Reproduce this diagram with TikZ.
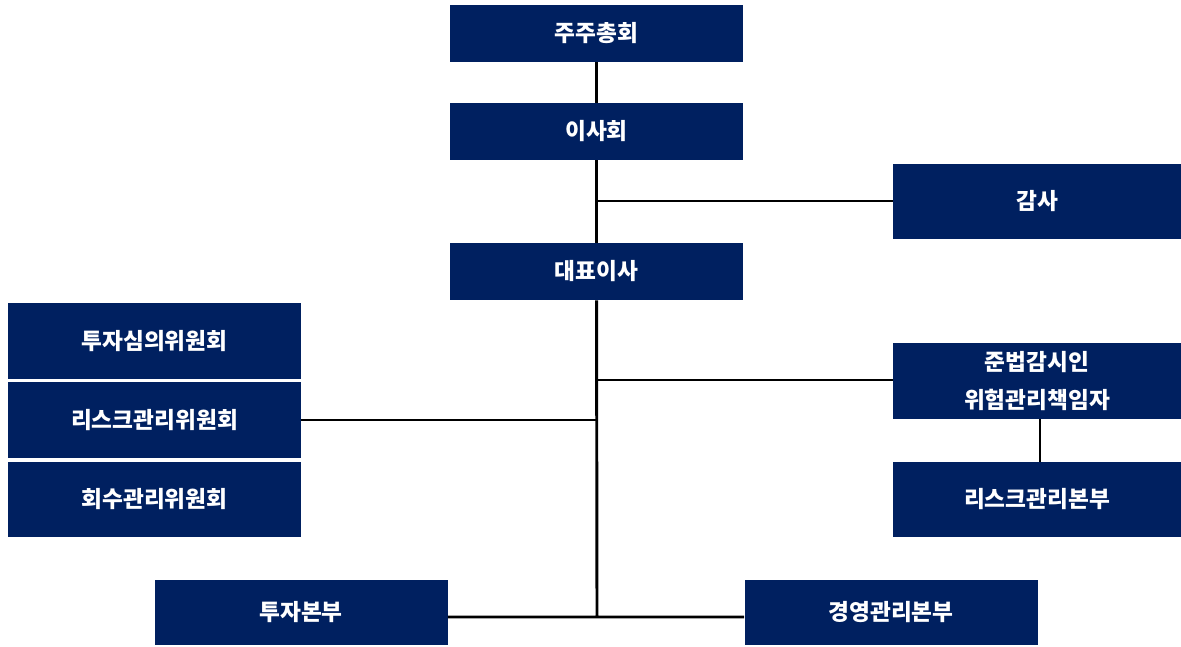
\documentclass[tikz,border=0pt]{standalone}
\usepackage{fontspec}
\newfontfamily\kr{Noto Sans CJK KR}
\usepackage{tikz}
\usetikzlibrary{positioning}
\definecolor{navy}{RGB}{0,32,96}

\begin{document}
\begin{tikzpicture}[x=0.75pt, y=-0.75pt]
	\tikzstyle{org}=[rectangle, fill=navy, text=white, font=\kr\bfseries\fontsize{17}{28.5}\selectfont,
	                        inner sep=0pt, align=center, minimum width=219.75pt];
	\tikzstyle{link}=[line width=2.2pt];
	\useasboundingbox (0,0) rectangle (1181,646);
	% top of the chart
	\node[org, minimum height=42.75pt] (gm) at (596.5,33.5) {주주총회};
	\node[org, minimum height=42.75pt] (board) at (596.5,131.5) {이사회};
	\node[org, minimum height=56.25pt, minimum width=216pt] (audit) at (1037,201.5) {감사};
	\node[org, minimum height=42.75pt] (ceo) at (596.5,271.5) {대표이사};
	% committees
	\node[org, minimum height=57pt] (cmt1) at (154.5,341) {투자심의위원회};
	\node[org, minimum height=57pt] (cmt2) at (154.5,420) {리스크관리위원회};
	\node[org, minimum height=56.25pt] (cmt3) at (154.5,499.5) {회수관리위원회};
	% compliance / risk
	\node[org, minimum height=57pt, minimum width=216pt] (comp) at (1037,381) {준법감시인\\위험관리책임자};
	\node[org, minimum height=56.25pt, minimum width=216pt] (riskdiv) at (1037,499.5) {리스크관리본부};
	% divisions
	\node[org, minimum height=48.75pt] (invdiv) at (301,612.5) {투자본부};
	\node[org, minimum height=48.75pt] (mgmtdiv) at (891,612.5) {경영관리본부};
	\coordinate (j1) at (597,201);
	\coordinate (j2) at (597,380);
	\coordinate (j3) at (597,420);
	\coordinate (j4) at (597,617);
	\draw[link]
	(gm) -- (board)
	(board) -- (ceo)
	(j1) -- (audit.west |- j1)
	(j2) -- (comp.west |- j2)
	(cmt2.east |- j3) -- (j3)
	;
	\draw[link] (ceo) -- (j4) (invdiv.east |- j4) -- (mgmtdiv.west |- j4);
	\draw[line width=1.8pt] (comp.south -| 1040,0) -- (riskdiv.north -| 1040,0);
\end{tikzpicture}
\end{document}
